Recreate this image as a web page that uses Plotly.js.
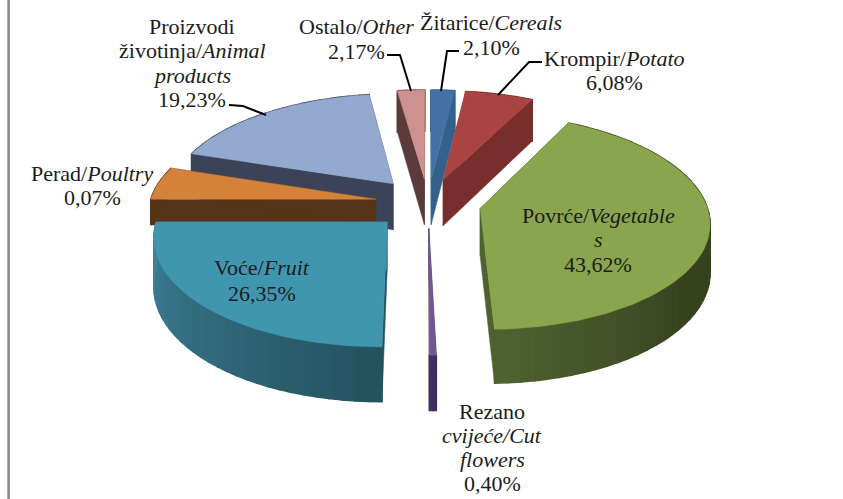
<!DOCTYPE html>
<html>
<head>
<meta charset="utf-8">
<script src="https://cdn.plot.ly/plotly-3.0.1.min.js"></script>
<style>html,body{margin:0;padding:0;background:#fff}#chart{width:843px;height:499px}</style>
</head>
<body>
<div id="chart"></div>
<script>
// ---- Data ----
const categories = ['Žitarice/Cereals','Krompir/Potato','Povrće/Vegetables','Rezano cvijeće/Cut flowers','Voće/Fruit','Perad/Poultry','Proizvodi životinja/Animal products','Ostalo/Other'];
const labelledShare = [2.10, 6.08, 43.62, 0.40, 26.35, 0.07, 19.23, 2.17];
// The printed percentages and the drawn wedges disagree (e.g. Poultry), so wedge sweeps are read separately.
const drawnSweepDeg = [7, 20, 151.4, 1.5, 90.1, 18, 64, 8];
const labelLines = [
  ['Žitarice/<i>Cereals</i>'],
  ['Krompir/<i>Potato</i>'],
  ['Povrće/<i>Vegetable</i>','<i>s</i>'],
  ['Rezano','<i>cvijeće/Cut</i>','<i>flowers</i>'],
  ['Voće/<i>Fruit</i>'],
  ['Perad/<i>Poultry</i>'],
  ['Proizvodi','životinja/<i>Animal</i>','<i>products</i>'],
  ['Ostalo/<i>Other</i>']
];

// ---- Styles and layout ----
const topColors  = ['#4472A6','#A94442','#89A54E','#71588F','#4096AF','#D6813A','#93A9CF','#CE9190'];
const wallStops = [
  [[0,'#35608C']],
  [[0,'#772E2C']],
  [[90,'#37421E'],[125,'#37421E'],[178,'#4F6230']],
  [[0,'#3F2F5F']],
  [[180,'#24525E'],[270,'#3F8299']],
  [[0,'#573417']],
  [[0,'#3A4358']],
  [[0,'#5A3A3A']]
];
const labelBoxes = [ // centre x, first-line y, line gap
  [491,22,25],[614,58,24],[598,215,24.5],[492,411,24.3],[262,267,26],[92,173,24],[192,26,24.5],[356,26,25]
];
const drawOrder = [7,0,1,6,5,3,2,4];
const leaders = [
  'M387,55 L400,55 L411,91',
  'M459,51 L447,51 L441,91',
  'M542,62 L529,62 L498,95',
  'M229,105 L243,106 L266,115'
];
const geo = {cx:428, cy:203, R:226, Q:105, persp:0.12};
const explodeBy = [0.235,0.235,0.235,0.235,0.25,0.235,0.245,0.235];
const depthBy   = [47,47,47,47,47,26,47,47];
const serif = '"Liberation Serif","Times New Roman",serif';

function hex(c){return [1,3,5].map(i=>parseInt(c.substr(i,2),16));}
function wallColor(stops,deg){
  if(stops.length===1) return stops[0][1];
  if(deg<=stops[0][0]) return stops[0][1];
  for(let i=1;i<stops.length;i++){
    if(deg<=stops[i][0]){
      const t=(deg-stops[i-1][0])/(stops[i][0]-stops[i-1][0]);
      const a=hex(stops[i-1][1]),b=hex(stops[i][1]);
      return 'rgb('+a.map((v,k)=>Math.round(v+(b[k]-v)*t)).join(',')+')';
    }
  }
  return stops[stops.length-1][1];
}
function project(X,Y,down){
  const s=1/(1+geo.persp*Y);
  return [geo.cx+geo.R*X*s, geo.cy-geo.Q*Y*s+down*s];
}
const rad=d=>d*Math.PI/180;
function poly(pts,color,w){
  return {type:'scatter',mode:'lines',x:pts.map(p=>p[0]).concat(pts[0][0]),y:pts.map(p=>p[1]).concat(pts[0][1]),
    fill:'toself',fillcolor:color,line:{color:color,width:w},hoverinfo:'skip',showlegend:false};
}

let starts=[],acc=0;
drawnSweepDeg.forEach(v=>{starts.push(acc);acc+=v;});
const scale=360/acc;

const traces=[];
drawOrder.forEach(i=>{
  const a0=starts[i]*scale,a1=(starts[i]+drawnSweepDeg[i])*scale,m=(a0+a1)/2;
  const ox=explodeBy[i]*Math.sin(rad(m)),oy=explodeBy[i]*Math.cos(rad(m));
  const D=depthBy[i];
  const at=(deg,down)=>project(ox+Math.sin(rad(deg)),oy+Math.cos(rad(deg)),down);
  const n=Math.max(2,Math.ceil((a1-a0)/3));
  const stops=wallStops[i];
  // cut walls
  [a0,a1].forEach(a=>{
    traces.push(poly([project(ox,oy,0),project(ox,oy,D),at(a,D),at(a,0)],stops[stops.length>1?(a===a0?0:stops.length-1):0][1],0.5));
  });
  // outer wall
  for(let k=0;k<n;k++){
    const d0=a0+(a1-a0)*k/n,d1=a0+(a1-a0)*(k+1)/n;
    traces.push(poly([at(d0,0),at(d1,0),at(d1,D),at(d0,D)],wallColor(stops,(d0+d1)/2),1.6));
  }
  // top face
  const top=[project(ox,oy,0)];
  for(let k=0;k<=n*2;k++) top.push(at(a0+(a1-a0)*k/(n*2),0));
  traces.push(poly(top,topColors[i],0.5));
});

const annotations=[];
categories.forEach((c,i)=>{
  const lines=labelLines[i].concat(labelledShare[i].toFixed(2).replace('.',',')+'%');
  const b=labelBoxes[i];
  lines.forEach((t,k)=>annotations.push({xref:'x',yref:'y',x:b[0],y:b[1]+k*b[2],text:t,showarrow:false,
    xanchor:'center',yanchor:'middle',font:{family:serif,size:22,color:'#1c1c1c'}}));
});

const shapes=leaders.map(p=>({type:'path',path:p,xref:'x',yref:'y',line:{color:'#000',width:2}}));
shapes.push({type:'line',xref:'paper',yref:'paper',x0:8.6/843,x1:8.6/843,y0:0,y1:1,line:{color:'#8a8a8a',width:2.6}});

Plotly.newPlot('chart',traces,{
  width:843,height:499,margin:{l:0,r:0,t:0,b:0},
  paper_bgcolor:'#fff',plot_bgcolor:'#fff',showlegend:false,hovermode:false,
  xaxis:{range:[0,843],visible:false,fixedrange:true},
  yaxis:{range:[499,0],visible:false,fixedrange:true},
  annotations:annotations,shapes:shapes
},{displayModeBar:false,staticPlot:true});
</script>
</body>
</html>
